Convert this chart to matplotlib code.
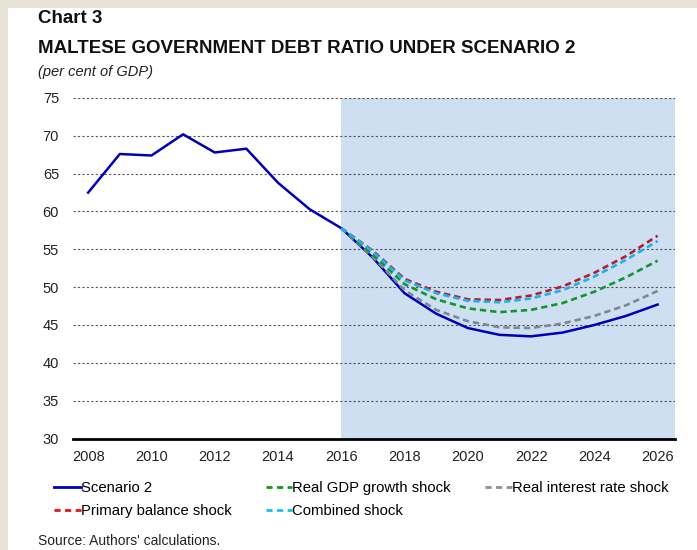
import matplotlib
matplotlib.use('Agg')
from matplotlib import pyplot as plt
from matplotlib.patches import Rectangle
from matplotlib.lines import Line2D

plt.rcParams['font.family'] = ['Liberation Sans', 'DejaVu Sans']

# data (per cent of GDP)
years_hist = [2008, 2009, 2010, 2011, 2012, 2013, 2014, 2015, 2016]
years_proj = [2016, 2017, 2018, 2019, 2020, 2021, 2022, 2023, 2024, 2025, 2026]

scenario2 = [62.5, 67.6, 67.4, 70.2, 67.8, 68.3, 63.8, 60.3, 57.8,
             53.9, 49.2, 46.5, 44.6, 43.7, 43.5, 44.0, 45.0, 46.2, 47.7]
gdp_shock = [57.8, 54.3, 50.4, 48.4, 47.2, 46.7, 47.0, 47.9, 49.4, 51.3, 53.5]
interest_shock = [57.8, 54.0, 49.6, 47.0, 45.5, 44.7, 44.6, 45.2, 46.2, 47.6, 49.5]
primary_shock = [57.8, 54.8, 51.1, 49.4, 48.4, 48.3, 48.9, 50.1, 51.9, 54.1, 56.8]
combined_shock = [57.8, 54.7, 50.9, 49.2, 48.2, 48.0, 48.5, 49.6, 51.4, 53.6, 56.1]

years_all = years_hist + years_proj[1:]

fig = plt.figure(figsize=(6.97, 5.5), dpi=100)
fig.patch.set_facecolor('#e7e3d7')
fig.patches.append(Rectangle((8 / 697, 0), 1, 1 - 8 / 550, transform=fig.transFigure,
                             facecolor='white', edgecolor='none', zorder=-10))

ax = fig.add_axes([73 / 697, 1 - 438.5 / 550, 602 / 697, 340.5 / 550])
ax.set_facecolor('none')

# projection period shading
ax.axvspan(2016, 2026.6, color='#cddff0', zorder=0, lw=0)

dash = (2.4, 1.5)
ax.plot(years_all, scenario2, color='#0000b8', lw=1.8, zorder=3)
ax.plot(years_proj, interest_shock, color='#7a8898', lw=1.9, dashes=dash, zorder=4)
ax.plot(years_proj, gdp_shock, color='#12962e', lw=1.9, dashes=dash, zorder=5)
ax.plot(years_proj, primary_shock, color='#b81c30', lw=1.9, dashes=dash, zorder=6)
ax.plot(years_proj, combined_shock, color='#19b4ec', lw=1.9, dashes=dash, zorder=7)

ax.set_xlim(2007.52, 2026.55)
ax.set_ylim(30, 75)
ax.set_xticks(range(2008, 2027, 2))
ax.set_yticks(range(30, 76, 5))
ax.tick_params(length=0, labelsize=10.5, colors='#222222')
ax.tick_params(axis='x', pad=8)
ax.tick_params(axis='y', pad=10)

for v in range(35, 76, 5):
    ax.axhline(v, color='#555555', lw=0.8, ls=(0, (2, 2)), zorder=1)

for s in ['top', 'right', 'left']:
    ax.spines[s].set_visible(False)
ax.spines['bottom'].set_linewidth(2)
ax.spines['bottom'].set_color('black')
ax.spines['bottom'].set_zorder(8)

# legend laid out in rows (column-wise fill, so order is interleaved)
names = ['Scenario 2', 'Primary balance shock', 'Real GDP growth shock',
         'Combined shock', 'Real interest rate shock']
leg_colors = ['#0000c0', '#ee1111', '#119911', '#11c4f4', '#8a8f98']
handles = []
for n, c in zip(names, leg_colors):
    if n == 'Scenario 2':
        handles.append(Line2D([], [], color=c, lw=2))
    else:
        handles.append(Line2D([], [], color=c, lw=2, dashes=(2.2, 1.6)))
fig.legend(handles, names, ncol=3, frameon=False,
           loc='upper left', bbox_to_anchor=(54 / 697, 1 - 481 / 550),
           fontsize=10.7, handlelength=1.8, handletextpad=0.0,
           columnspacing=2.3, labelspacing=0.6, borderaxespad=0, borderpad=0)

fig.text(38 / 697, 1 - 23 / 550, 'Chart 3', fontsize=13.5, fontweight='bold', color='#111111')
fig.text(38 / 697, 1 - 53 / 550, 'MALTESE GOVERNMENT DEBT RATIO UNDER SCENARIO 2',
         fontsize=13.5, fontweight='bold', color='#111111')
fig.text(38 / 697, 1 - 76 / 550, '(per cent of GDP)', fontsize=10.5, style='italic', color='#222222')
fig.text(38 / 697, 1 - 545 / 550, "Source: Authors' calculations.", fontsize=10, color='#222222')

fig.savefig('out.png', dpi=100, facecolor=fig.get_facecolor())
